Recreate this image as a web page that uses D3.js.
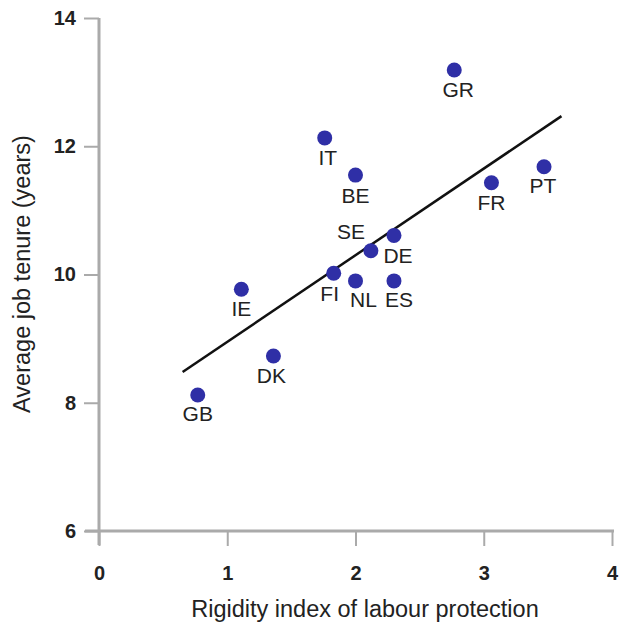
<!DOCTYPE html>
<html><head><meta charset="utf-8">
<script src="https://cdn.jsdelivr.net/npm/d3@7"></script>
<style>body{margin:0;background:#fff}</style>
</head><body>
<script>
const countries = ["GB","IE","DK","FI","IT","BE","NL","SE","DE","ES","GR","FR","PT"];
const rigidity = [0.77,1.11,1.36,1.83,1.76,2.00,2.00,2.12,2.30,2.30,2.77,3.06,3.47];
const tenure = [8.12,9.77,8.73,10.02,12.13,11.55,9.90,10.37,10.61,9.90,13.19,11.43,11.68];
const labelDx = [0,0,-2,-4,3,0,8,-20,4,5,4,0,-1];
const labelDy = [18,19,20,20,20,20,19,-19,20,19,19,20,19];
const fitX = [0.652,3.606];
const fitY = [8.48,12.47];
const xTicks = [0,1,2,3,4];
const yTicks = [6,8,10,12,14];

const W=619,H=625;
const svg=d3.select("body").append("svg").attr("width",W).attr("height",H);
const x=d3.scaleLinear().domain([0,4]).range([99,612]);
const y=d3.scaleLinear().domain([6,14]).range([531,18]);
const font="Liberation Sans, Arial, sans-serif";
const axisCol="#aaaaaa";
const txtCol="#222";

svg.append("line").attr("x1",x(0)).attr("x2",x(0)).attr("y1",y(14)).attr("y2",y(6)+14)
  .attr("stroke",axisCol).attr("stroke-width",3);
svg.append("line").attr("x1",x(0)-14).attr("x2",x(4)+2).attr("y1",y(6)).attr("y2",y(6))
  .attr("stroke",axisCol).attr("stroke-width",3);

const ya=d3.axisLeft(y).tickValues(yTicks).tickSize(15).tickPadding(8).tickFormat(d3.format("d"));
const gy=svg.append("g").attr("transform",`translate(${x(0)},0)`).call(ya);
gy.select(".domain").remove();
gy.selectAll(".tick line").attr("stroke",axisCol).attr("stroke-width",2);
gy.selectAll(".tick text").attr("font-family",font).attr("font-size",20).attr("font-weight","bold").attr("fill",txtCol);

const xa=d3.axisBottom(x).tickValues(xTicks).tickSize(15).tickPadding(20).tickFormat(d3.format("d"));
const gx=svg.append("g").attr("transform",`translate(0,${y(6)})`).call(xa);
gx.select(".domain").remove();
gx.selectAll(".tick line").attr("stroke",axisCol).attr("stroke-width",2);
gx.selectAll(".tick text").attr("font-family",font).attr("font-size",20).attr("font-weight","bold").attr("fill",txtCol);

svg.append("text").attr("x",365).attr("y",617).attr("text-anchor","middle")
  .attr("font-family",font).attr("font-size",23.5).attr("fill",txtCol).text("Rigidity index of labour protection");
svg.append("text").attr("transform",`translate(30,274) rotate(-90)`).attr("text-anchor","middle")
  .attr("font-family",font).attr("font-size",23.5).attr("fill",txtCol).text("Average job tenure (years)");

svg.append("line").attr("x1",x(fitX[0])).attr("y1",y(fitY[0])).attr("x2",x(fitX[1])).attr("y2",y(fitY[1]))
  .attr("stroke","#111").attr("stroke-width",2.5);

const data=countries.map((c,i)=>({c,x:rigidity[i],y:tenure[i],dx:labelDx[i],dy:labelDy[i]}));
svg.selectAll("circle.pt").data(data).join("circle").attr("class","pt")
  .attr("cx",d=>x(d.x)).attr("cy",d=>y(d.y)).attr("r",7.5).attr("fill","#2f2fa6");
svg.selectAll("text.lbl").data(data).join("text").attr("class","lbl")
  .attr("x",d=>x(d.x)+d.dx).attr("y",d=>y(d.y)+d.dy).attr("dy","0.36em").attr("text-anchor","middle")
  .attr("font-family",font).attr("font-size",21).attr("fill",txtCol).text(d=>d.c);
</script>
</body></html>
